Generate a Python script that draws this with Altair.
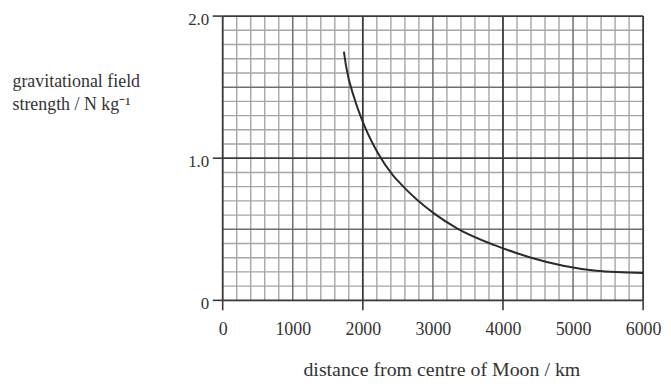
import altair as alt
import pandas as pd

# curve
distance_km = [1730, 1760, 1880, 1980, 2060, 2210, 2430, 2540, 3020, 3350, 3870, 4180, 4390, 4860, 5330, 6000]
g_field = [1.75, 1.65, 1.42, 1.28, 1.185, 1.04, 0.88, 0.82, 0.61, 0.505, 0.39, 0.335, 0.302, 0.244, 0.209, 0.193]

x_labels = [0, 1000, 2000, 3000, 4000, 5000, 6000]
y_labels = [0, 1.0, 2.0]
x_major = [0, 2000, 4000, 6000]
x_medium = [1000, 3000, 5000]
x_minor = [v for v in range(0, 6001, 200) if v % 1000 != 0]
y_major = [0, 1.0, 2.0]
y_medium = [0.5, 1.5]
y_minor = [round(v / 10, 1) for v in range(0, 21) if v % 5 != 0]

FONT = "Liberation Serif"
TXT = "#333333"

xs = alt.Scale(domain=[0, 6000], nice=False, zero=False)
ys = alt.Scale(domain=[0, 2.0], nice=False, zero=False)

x_axis = alt.Axis(
    values=x_labels,
    format="d",
    ticks=False,
    domain=False,
    grid=False,
    labelFont=FONT,
    labelFontSize=18,
    labelColor=TXT,
    labelPadding=20,
    labelFlush=False,
    title="distance from centre of Moon / km",
    titleFont=FONT,
    titleFontSize=20,
    titleFontWeight="normal",
    titleColor=TXT,
    titlePadding=22,
    titleX=220,
)
y_axis = alt.Axis(
    values=y_labels,
    ticks=False,
    domain=False,
    grid=False,
    labelExpr="datum.value == 0 ? '0' : format(datum.value, '.1f')",
    labelFont=FONT,
    labelFontSize=17,
    labelColor=TXT,
    labelPadding=14,
    labelOffset=3,
    labelFlush=False,
    title=["gravitational field", "strength / N kg\u207b\u00b9"],
    titleFont=FONT,
    titleFontSize=18,
    titleFontWeight="normal",
    titleColor=TXT,
    titleAngle=0,
    titleAlign="left",
    titleBaseline="top",
    titleX=-212,
    titleY=57,
    titleLineHeight=23,
)

curve_df = pd.DataFrame({"d": distance_km, "g": g_field})


def vrules(vals, color, width):
    return alt.Chart(pd.DataFrame({"v": vals})).mark_rule(color=color, strokeWidth=width).encode(
        x=alt.X("v:Q", scale=xs, axis=x_axis)
    )


def hrules(vals, color, width):
    return alt.Chart(pd.DataFrame({"v": vals})).mark_rule(color=color, strokeWidth=width).encode(
        y=alt.Y("v:Q", scale=ys, axis=y_axis)
    )


minor = vrules(x_minor, "#a6a6a6", 1.4) + hrules(y_minor, "#a6a6a6", 1.4)
medium = vrules(x_medium, "#6e6e6e", 1.5) + hrules(y_medium, "#6e6e6e", 1.5)
major = vrules(x_major, "#3a3a3a", 1.8) + hrules(y_major, "#3a3a3a", 1.8)

xticks = alt.Chart(pd.DataFrame({"v": x_major})).mark_rule(color="#3a3a3a", strokeWidth=1.6).encode(
    x=alt.X("v:Q", scale=xs, axis=x_axis), y=alt.value(286), y2=alt.value(296)
)
yticks = alt.Chart(pd.DataFrame({"v": y_major})).mark_rule(color="#3a3a3a", strokeWidth=1.6).encode(
    y=alt.Y("v:Q", scale=ys, axis=y_axis), x=alt.value(-10), x2=alt.value(0)
)

curve = alt.Chart(curve_df).mark_line(color="#2b2b2b", strokeWidth=2, interpolate="monotone").encode(
    x=alt.X("d:Q", scale=xs, axis=x_axis),
    y=alt.Y("g:Q", scale=ys, axis=y_axis),
)

chart = (
    alt.layer(minor, medium, major, xticks, yticks, curve)
    .properties(
        width=423,
        height=286,
        autosize=alt.AutoSizeParams(type="none"),
        padding={"left": 216, "top": 7, "right": 20, "bottom": 80},
    )
    .configure_view(stroke=None)
    .configure(background="white")
)

chart.save("out.html", embed_options={"renderer": "svg", "actions": False})
